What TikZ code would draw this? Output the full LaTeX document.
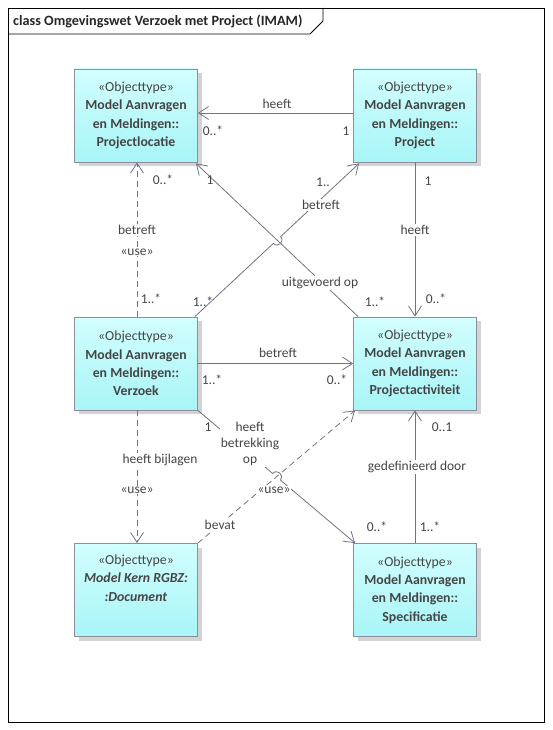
\documentclass[tikz,border=0pt]{standalone}
\usepackage{fontspec}
\setmainfont{Carlito}
\usetikzlibrary{arrows.meta,calc,shadows}
\definecolor{boxborder}{HTML}{8A8F99}
\definecolor{cyantop}{HTML}{D2FEFE}
\definecolor{cyanbot}{HTML}{A8F5F7}
\definecolor{shadowgray}{HTML}{D3D3D6}
\definecolor{txt}{HTML}{454545}
\definecolor{linec}{HTML}{6E7385}
\tikzset{
  umlbox/.style={draw=boxborder, line width=0.8pt, top color=cyantop, bottom color=cyanbot,
    minimum width=123pt, minimum height=93pt, align=center, text=txt, inner sep=0pt,
    font=\fontsize{13.8}{18.3}\selectfont,
    drop shadow={shadow xshift=4pt, shadow yshift=-4pt, fill=shadowgray, opacity=1}},
  lbl/.style={font=\fontsize{13.5}{16}\selectfont, text=txt, inner sep=1pt, align=center},
  onl/.style={lbl, fill=white},
  assoc/.style={draw=linec, line width=0.8pt, -{Straight Barb[length=10pt,width=13pt,line width=0.8pt]}},
  depend/.style={assoc, dash pattern=on 6pt off 4pt},
}
\begin{document}
\begin{tikzpicture}[x=1pt,y=-1pt]
\useasboundingbox (0,0) rectangle (552,730);
% frame
\draw[black, line width=0.8pt] (8,8) rectangle (544,722);
\draw[black, line width=0.8pt] (8,34) -- (310,34) -- (323,21) -- (323,8);
\node[anchor=west, font=\fontsize{14.2}{16}\selectfont\bfseries, text=black!85, inner sep=0pt] (title) at (13,21) {class Omgevingswet Verzoek met Project (IMAM)};

% boxes
\node[umlbox] (PL) at (136,115.5) {«Objecttype»\\\textbf{Model Aanvragen}\\\textbf{en Meldingen::}\\\textbf{Projectlocatie}};
\node[umlbox] (PR) at (415,115.5) {«Objecttype»\\\textbf{Model Aanvragen}\\\textbf{en Meldingen::}\\\textbf{Project}};
\node[umlbox] (VZ) at (136,363.5) {«Objecttype»\\\textbf{Model Aanvragen}\\\textbf{en Meldingen::}\\\textbf{Verzoek}};
\node[umlbox] (PA) at (415,363.5) {«Objecttype»\\\textbf{Model Aanvragen}\\\textbf{en Meldingen::}\\\textbf{Projectactiviteit}};
\node[umlbox] (DOC) at (136,590) {«Objecttype»\\\textbf{\textit{Model Kern RGBZ:}}\\\textbf{\textit{:Document}}\\\strut};
\node[umlbox] (SP) at (415,590) {«Objecttype»\\\textbf{Model Aanvragen}\\\textbf{en Meldingen::}\\\textbf{Specificatie}};

% 1 Project -> Projectlocatie heeft
\draw[assoc] ([yshift=2.5pt]PR.west) -- ([yshift=2.5pt]PL.east);
\node[lbl] (l1a) at (277,104) {heeft};
\node[lbl] (l1b) at (213,131) {0..*};
\node[lbl] (l1c) at (346,131) {1};

% 2 Project -> Projectactiviteit heeft
\draw[assoc] (PR.south) -- (PA.north);
\node[lbl] (l2a) at (428,181) {1};
\node[onl] (l2b) at (415,230) {heeft};
\node[lbl] (l2c) at (436,299) {0..*};

% 5 Projectactiviteit -> Projectlocatie uitgevoerd op
\draw[assoc] ([xshift=5pt]PA.north west) -- ([xshift=-2pt,yshift=-1pt]PL.south east);
\node[lbl] (l5a) at (210,180) {1};
\node[onl] (l5b) at (320,283) {uitgevoerd op};
\node[lbl] (l5c) at (375,302) {1..*};

% 4 Verzoek -> Project betreft (with hop)
\coordinate (a4) at ([xshift=-3pt]VZ.north east);
\coordinate (b4) at ([xshift=6pt,yshift=-1pt]PR.south west);
\coordinate (m4) at ($(a4)!0.5!(b4)$);
\coordinate (p4a) at ($(m4)!5pt!(a4)$);
\coordinate (p4b) at ($(m4)!5pt!(b4)$);
\draw[assoc] (a4) -- (p4a) .. controls ($(p4a)!6.67pt!-90:(m4)$) and ($(p4b)!6.67pt!90:(m4)$) .. (p4b) -- (b4);
\node[lbl] (l4a) at (323,182) {1..};
\node[onl] (l4b) at (321,205) {betreft};
\node[lbl] (l4c) at (203,302) {1..*};

% 3 Verzoek -> Projectlocatie betreft use
\draw[depend] ([xshift=1pt]VZ.north) -- ([xshift=1pt]PL.south);
\node[lbl] (l3a) at (163,180) {0..*};
\node[onl] (l3b) at (137,230) {betreft};
\node[onl] (l3c) at (137,252) {«use»};
\node[lbl] (l3d) at (151,299) {1..*};

% 6 Verzoek -> Projectactiviteit betreft
\draw[assoc] (VZ.east) -- (PA.west);
\node[lbl] (l6a) at (278,353) {betreft};
\node[lbl] (l6b) at (212,380) {1..*};
\node[lbl] (l6c) at (337,380) {0..*};

% 8 Document -> Projectactiviteit bevat use
\draw[depend] (DOC.north east) -- ([xshift=2pt]PA.south west);

% 7 Verzoek -> Specificatie heeft betrekking op (with hop)
\coordinate (a7) at (VZ.south east);
\coordinate (b7) at ([xshift=2pt]SP.north west);
\coordinate (m7) at ($(a7)!0.5!(b7)$);
\coordinate (p7a) at ($(m7)!5pt!(a7)$);
\coordinate (p7b) at ($(m7)!5pt!(b7)$);
\draw[assoc] (a7) -- (p7a) .. controls ($(p7a)!6.67pt!90:(m7)$) and ($(p7b)!6.67pt!-90:(m7)$) .. (p7b) -- (b7);
\node[lbl] (l7a) at (208,427) {1};
\node[onl] (l7b) at (250,444) {heeft\\betrekking\\op};
\node[lbl] (l7c) at (377,527) {0..*};

\node[onl] (l8a) at (220,525) {bevat};
\node[onl] (l8b) at (274,490) {«use»};

% 9 Verzoek -> Document heeft bijlagen use
\draw[depend] ([xshift=1pt]VZ.south) -- ([xshift=1pt]DOC.north);
\node[onl] (l9a) at (160,460) {heeft bijlagen};
\node[onl] (l9b) at (137,490) {«use»};

% 10 Specificatie -> Projectactiviteit gedefinieerd door
\draw[assoc] (SP.north) -- (PA.south);
\node[lbl] (l10a) at (442,427) {0..1};
\node[onl] (l10b) at (417,467) {gedefinieerd door};
\node[lbl] (l10c) at (430,527) {1..*};
\end{tikzpicture}
\end{document}
